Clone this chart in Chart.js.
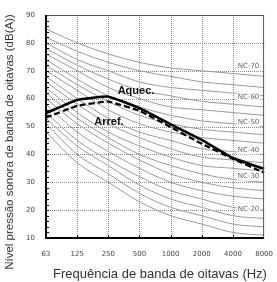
<!DOCTYPE html>
<html>
<head>
<meta charset="utf-8">
<script src="https://cdn.jsdelivr.net/npm/chart.js@4.4.0/dist/chart.umd.min.js"></script>
<style>
  html, body { margin: 0; padding: 0; background: #fff; }
  #wrap { width: 277px; height: 282px; position: relative; }
</style>
</head>
<body>
<div id="wrap"><canvas id="ncChart"></canvas></div>
<script>
// octave bands
const bands = ['63', '125', '250', '500', '1000', '2000', '4000', '8000'];

// measured spectra
const aquec = [54.8, 59.5, 60.7, 56.6, 50.8, 45.2, 38.7, 34.8];
const arref = [53.2, 57.4, 58.9, 55.6, 49.8, 43.8, 38.4, 33.4];

// NC reference curves (top to bottom)
const ncCurves = [
    [85, 80, 76, 73, 71, 70, 69, 68],
    [82, 77, 73, 70, 68, 66, 65, 64],
    [80, 74, 70, 66, 64, 63, 62, 61],
    [78, 72, 67, 63, 61, 59, 58, 57],
    [76, 70, 64, 60, 57, 56, 55, 54],
    [74, 67, 61, 57, 54, 52, 51, 50],
    [72, 65, 59, 54, 51, 49, 48, 47],
    [70, 63, 56, 51, 48, 46, 45, 44],
    [68, 60, 53, 48, 45, 42, 41, 40],
    [66, 58, 51, 46, 42, 39, 38, 37],
    [64, 55, 48, 43, 39, 36, 35, 34],
    [62, 53, 46, 40, 36, 33, 31, 30],
    [60, 51, 44, 38, 33, 30, 28, 27],
    [58, 48, 41, 35, 30, 27, 25, 24],
    [55, 45, 38, 32, 27, 24, 21, 20],
    [53, 43, 36, 29, 24, 21, 18, 17],
    [51, 40, 33, 26, 21, 18, 15, 14],
    [48, 37, 30, 23, 18, 15, 12, 11]
];

// NC labels on the right side
const ncLabels = ['NC-70', 'NC-60', 'NC-50', 'NC-40', 'NC-30', 'NC-20'];
const ncLabelLevels = [71.5, 60.5, 51.5, 41.5, 32, 20.5];

const yTicks = [10, 20, 30, 40, 50, 60, 70, 80, 90];

const xTitle = 'Frequência de banda de oitavas (Hz)';
const yTitle = 'Nível pressão sonora de banda de oitavas (dB(A))';

const datasets = [
    {
        label: 'Aquec.',
        data: aquec,
        borderColor: '#000',
        borderWidth: 2.5,
        pointRadius: 0,
        tension: 0.12
    },
    {
        label: 'Arref.',
        data: arref,
        borderColor: '#000',
        borderWidth: 2.2,
        borderDash: [6, 3],
        pointRadius: 0,
        tension: 0.12
    }
];
ncCurves.forEach(function(c, i) {
    datasets.push({
        label: 'nc' + i,
        data: c,
        borderColor: '#9a9a9a',
        borderWidth: 1,
        pointRadius: 0,
        cubicInterpolationMode: 'monotone'
    });
});

// dotted grid, frame, minor ticks, text annotations
const decor = {
    id: 'decor',
    beforeDatasetsDraw: function(chart) {
        const ctx = chart.ctx;
        const a = chart.chartArea;
        const x = chart.scales.x;
        const y = chart.scales.y;
        ctx.save();
        ctx.strokeStyle = '#8a8a8a';
        ctx.lineWidth = 1;
        ctx.setLineDash([1, 1]);
        ctx.beginPath();
        for (let i = 1; i < bands.length - 1; i++) {
            const px = Math.round(x.getPixelForValue(i)) + 0.5;
            ctx.moveTo(px, a.top);
            ctx.lineTo(px, a.bottom);
        }
        yTicks.slice(1, -1).forEach(function(v) {
            const py = Math.round(y.getPixelForValue(v)) + 0.5;
            ctx.moveTo(a.left, py);
            ctx.lineTo(a.right, py);
        });
        ctx.stroke();
        ctx.restore();
    },
    afterDatasetsDraw: function(chart) {
        const ctx = chart.ctx;
        const a = chart.chartArea;
        const x = chart.scales.x;
        const y = chart.scales.y;
        ctx.save();

        // NC labels
        ctx.font = '7px "DejaVu Sans"';
        ctx.textAlign = 'center';
        ctx.textBaseline = 'middle';
        ncLabels.forEach(function(t, i) {
            const px = x.getPixelForValue(6.5);
            const py = y.getPixelForValue(ncLabelLevels[i]);
            const w = ctx.measureText(t).width;
            ctx.fillStyle = '#fff';
            ctx.fillRect(px - w / 2 - 1, py - 4, w + 2, 8);
            ctx.fillStyle = '#666';
            ctx.fillText(t, px, py);
        });

        // series labels
        ctx.font = 'bold 11px "Liberation Sans"';
        ctx.fillStyle = '#111';
        ctx.textAlign = 'left';
        ctx.fillText('Aquec.', x.getPixelForValue(2.3), y.getPixelForValue(62.9));
        ctx.fillText('Arref.', x.getPixelForValue(1.55), y.getPixelForValue(51.7));

        // frame
        ctx.strokeStyle = '#555';
        ctx.lineWidth = 1;
        ctx.strokeRect(a.left + 0.5, a.top + 0.5, a.right - a.left - 1, a.bottom - a.top - 1);
        ctx.strokeStyle = '#000';
        ctx.lineWidth = 2;
        ctx.beginPath();
        ctx.moveTo(a.left, a.top);
        ctx.lineTo(a.left, a.bottom);
        ctx.lineTo(a.right, a.bottom);
        ctx.stroke();

        // minor ticks
        ctx.lineWidth = 1;
        ctx.beginPath();
        for (let v = 12; v < 90; v += 2) {
            const py = Math.round(y.getPixelForValue(v)) + 0.5;
            ctx.moveTo(a.left, py);
            ctx.lineTo(a.left + 3, py);
        }
        for (let i = 1; i < bands.length - 1; i++) {
            const px = Math.round(x.getPixelForValue(i)) + 0.5;
            ctx.moveTo(px, a.bottom);
            ctx.lineTo(px, a.bottom - 3);
        }
        ctx.stroke();

        // axis titles
        ctx.fillStyle = '#333';
        ctx.textAlign = 'center';
        ctx.textBaseline = 'middle';
        ctx.font = '13px "Liberation Sans"';
        ctx.fillText(xTitle, 160, 274);
        ctx.translate(10, 142);
        ctx.rotate(-Math.PI / 2);
        ctx.font = '11.5px "Liberation Sans"';
        ctx.fillText(yTitle, 0, 0);
        ctx.restore();
    }
};

const ctx = document.getElementById('ncChart').getContext('2d');
new Chart(ctx, {
    type: 'line',
    data: { labels: bands, datasets: datasets },
    options: {
        responsive: true,
        maintainAspectRatio: false,
        animation: false,
        layout: { padding: { top: 15, right: 8, left: 0, bottom: 0 } },
        plugins: {
            legend: { display: false },
            tooltip: { enabled: false }
        },
        scales: {
            x: {
                offset: false,
                grid: { display: false },
                border: { display: false },
                ticks: {
                    font: { family: 'DejaVu Sans', size: 7 },
                    color: '#444',
                    padding: 4,
                    maxRotation: 0,
                    autoSkip: false
                },
                afterFit: function(s) { s.height = 44; }
            },
            y: {
                min: 10,
                max: 90,
                afterBuildTicks: function(s) {
                    s.ticks = yTicks.map(function(v) { return { value: v }; });
                },
                grid: { display: false },
                border: { display: false },
                ticks: {
                    font: { family: 'DejaVu Sans', size: 7 },
                    color: '#444',
                    padding: 3
                },
                afterFit: function(s) { s.width = 46; }
            }
        }
    },
    plugins: [decor]
});
</script>
</body>
</html>
